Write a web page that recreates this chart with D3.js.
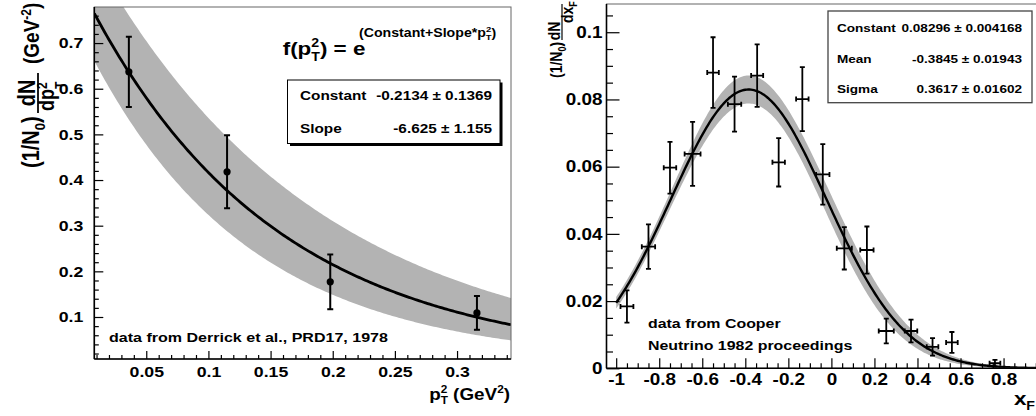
<!DOCTYPE html>
<html>
<head>
<meta charset="utf-8" />
<title>Derrick pT2 and Cooper xF fits</title>
<script src="https://d3js.org/d3.v7.min.js"></script>
<style>
    html, body { margin: 0; padding: 0; background: #fff; }
    svg { display: block; }
    text { font-family: "Liberation Sans", Arial, Helvetica, sans-serif; font-weight: bold; fill: #000; }
</style>
</head>
<body>
<div class="canvas"></div>
<script>
// ---- left panel: Derrick et al. pT^2 data ----
var ptX = [0.036, 0.115, 0.198, 0.316];
var ptY = [0.637, 0.418, 0.177, 0.109];
var ptErr = [0.077, 0.080, 0.060, 0.037];
var expPars = [-0.2134, -6.625];      // Constant, Slope
var expErrs = [0.1369, 1.155];
var ptTicks = [0.05, 0.1, 0.15, 0.2, 0.25, 0.3];
var ptTickLabels = ["0.05", "0.1", "0.15", "0.2", "0.25", "0.3"];
var dnTicks = [0.1, 0.2, 0.3, 0.4, 0.5, 0.6, 0.7];
var dnTickLabels = ["0.1", "0.2", "0.3", "0.4", "0.5", "0.6", "0.7"];

// ---- right panel: Cooper xF data ----
var xfX = [-0.95, -0.85, -0.75, -0.645, -0.55, -0.45, -0.345, -0.245, -0.135, -0.04, 0.06, 0.165, 0.255, 0.37, 0.47, 0.56, 0.76];
var xfY = [0.0184, 0.0362, 0.0597, 0.0638, 0.088, 0.0786, 0.0871, 0.0613, 0.0801, 0.0577, 0.0357, 0.0352, 0.0111, 0.0111, 0.0064, 0.0077, 0.0015];
var xfYErr = [0.0048, 0.0066, 0.0077, 0.0095, 0.0105, 0.0082, 0.0093, 0.0072, 0.0095, 0.009, 0.0063, 0.007, 0.0037, 0.0034, 0.0026, 0.0031, 0.001];
var xfXErr = [0.03, 0.031, 0.029, 0.037, 0.027, 0.031, 0.028, 0.029, 0.029, 0.031, 0.035, 0.031, 0.035, 0.029, 0.027, 0.027, 0.025];
var gausPars = [0.08296, -0.3845, 0.3617];   // Constant, Mean, Sigma
var gausErrs = [0.004168, 0.01943, 0.01602];
var gausCorr = [[1, 0, -0.6], [0, 1, 0.5], [-0.6, 0.5, 1]];
var xfTicks = [-1, -0.8, -0.6, -0.4, -0.2, 0, 0.2, 0.4, 0.6, 0.8];
var xfTickLabels = ["-1", "-0.8", "-0.6", "-0.4", "-0.2", "0", "0.2", "0.4", "0.6", "0.8"];
var dxTicks = [0, 0.02, 0.04, 0.06, 0.08, 0.1];
var dxTickLabels = ["0", "0.02", "0.04", "0.06", "0.08", "0.1"];

var width = 1036, height = 416;
var SX = 1.18;   // picture is a bit stretched sideways, text too
var bandColor = "#b3b3b3";

var svg = d3.select(".canvas").append("svg")
    .attr("width", width)
    .attr("height", height);

function stext(g, x, y, anchor, size) {
    return g.append("text")
        .attr("transform", "translate(" + x + "," + y + ") scale(" + SX + ",1)")
        .attr("text-anchor", anchor)
        .style("font-size", size + "px");
}

function styleAxis(g, size) {
    g.select(".domain").remove();
    g.attr("font-family", null).attr("font-size", null);
    g.selectAll("line").attr("stroke", "#000").attr("stroke-width", 1.2);
    g.selectAll("text").style("font-size", size + "px");
}

// ================= LEFT =================
var L = {left: 94.3, right: 511, top: 7, bottom: 359};
var xL = d3.scaleLinear().domain([0.0082, 0.3434]).range([L.left, L.right]);
var yL = d3.scaleLinear().domain([0.008, 0.779]).range([L.bottom, L.top]);

svg.append("clipPath").attr("id", "clipL").append("rect")
    .attr("x", L.left).attr("y", L.top).attr("width", L.right - L.left).attr("height", L.bottom - L.top);

var left = svg.append("g");
var plotL = left.append("g").attr("clip-path", "url(#clipL)");

function expFit(x) { return Math.exp(expPars[0] + expPars[1] * x); }
var sampL = d3.range(0, 201).map(function(i) { return xL.domain()[0] + i * (xL.domain()[1] - xL.domain()[0]) / 200; });

plotL.append("path")
    .datum(sampL)
    .attr("fill", bandColor)
    .attr("d", d3.area()
        .x(function(d) { return xL(d); })
        .y0(function(d) { return yL(Math.exp(expPars[0] - expErrs[0] + (expPars[1] - expErrs[1]) * d)); })
        .y1(function(d) { return yL(Math.exp(expPars[0] + expErrs[0] + (expPars[1] + expErrs[1]) * d)); }));

plotL.append("path")
    .datum(sampL)
    .attr("fill", "none")
    .attr("stroke", "#000")
    .attr("stroke-width", 2.8)
    .attr("d", d3.line().x(function(d) { return xL(d); }).y(function(d) { return yL(expFit(d)); }));

var ptsL = plotL.selectAll("g.pt").data(ptX).enter().append("g");
ptsL.append("line")
    .attr("x1", function(d) { return xL(d); }).attr("x2", function(d) { return xL(d); })
    .attr("y1", function(d, i) { return yL(ptY[i] - ptErr[i]); })
    .attr("y2", function(d, i) { return yL(ptY[i] + ptErr[i]); })
    .attr("stroke", "#000").attr("stroke-width", 2);
[-1, 1].forEach(function(s) {
    ptsL.append("line")
        .attr("x1", function(d) { return xL(d) - 3; }).attr("x2", function(d) { return xL(d) + 3; })
        .attr("y1", function(d, i) { return yL(ptY[i] + s * ptErr[i]); })
        .attr("y2", function(d, i) { return yL(ptY[i] + s * ptErr[i]); })
        .attr("stroke", "#000").attr("stroke-width", 2);
});
ptsL.append("circle")
    .attr("cx", function(d) { return xL(d); })
    .attr("cy", function(d, i) { return yL(ptY[i]); })
    .attr("r", 3.6).attr("fill", "#000");

// frame
left.append("rect")
    .attr("x", L.left).attr("y", L.top).attr("width", L.right - L.left).attr("height", L.bottom - L.top)
    .attr("fill", "none").attr("stroke", "#666").attr("stroke-width", 1);

// axes
var minorL = d3.range(0.01, 0.344, 0.01).filter(function(v) { return Math.abs(v / 0.05 - Math.round(v / 0.05)) > 1e-6; });
left.append("g").attr("transform", "translate(0," + L.bottom + ")")
    .call(d3.axisBottom(xL).tickValues(minorL).tickSize(-4).tickFormat(""))
    .call(function(g) { styleAxis(g, 15); });
left.append("g").attr("transform", "translate(0," + L.bottom + ")")
    .call(d3.axisBottom(xL).tickValues(ptTicks).tickSize(-8).tickPadding(7)
        .tickFormat(function(d, i) { return ptTickLabels[i]; }))
    .call(function(g) { styleAxis(g, 15); g.selectAll("text").attr("transform", "scale(" + SX + ",1)"); });

var minorLy = d3.range(0.02, 0.78, 0.02).filter(function(v) { return Math.abs(v / 0.1 - Math.round(v / 0.1)) > 1e-6; });
left.append("g").attr("transform", "translate(" + L.left + ",0)")
    .call(d3.axisLeft(yL).tickValues(minorLy).tickSize(-4.5).tickFormat(""))
    .call(function(g) { styleAxis(g, 15); });
left.append("g").attr("transform", "translate(" + L.left + ",0)")
    .call(d3.axisLeft(yL).tickValues(dnTicks).tickSize(-9).tickPadding(11)
        .tickFormat(function(d, i) { return dnTickLabels[i]; }))
    .call(function(g) {
        styleAxis(g, 15);
        g.selectAll("text").attr("transform", "scale(" + SX + ",1)").attr("x", -11 / SX);
    });

left.append("line").attr("x1", L.left).attr("x2", L.right).attr("y1", L.bottom).attr("y2", L.bottom)
    .attr("stroke", "#000").attr("stroke-width", 1.6);
left.append("line").attr("x1", L.left).attr("x2", L.left).attr("y1", L.top).attr("y2", L.bottom)
    .attr("stroke", "#000").attr("stroke-width", 1.6);

// formula
var f1 = stext(left, 282.7, 55, "start", 19);
f1.append("tspan").text("f(p");
f1.append("tspan").attr("dy", -8).style("font-size", "12px").text("2");
f1.append("tspan").attr("dx", -6.7).attr("dy", 14).style("font-size", "12px").text("T");
f1.append("tspan").attr("dy", -6).text(") = e");
var f2 = stext(left, 359, 37, "start", 12);
f2.append("tspan").text("(Constant+Slope*p");
f2.append("tspan").attr("dy", -5).style("font-size", "8px").text("2");
f2.append("tspan").attr("dx", -4.5).attr("dy", 8).style("font-size", "8px").text("T");
f2.append("tspan").attr("dy", -3).text(")");

// stats box
left.append("rect").attr("x", 290).attr("y", 82.5).attr("width", 212.5).attr("height", 63.5).attr("fill", "#000");
left.append("rect").attr("x", 287.5).attr("y", 80).attr("width", 212.5).attr("height", 63.5)
    .attr("fill", "#fff").attr("stroke", "#000").attr("stroke-width", 1);
stext(left, 300, 100, "start", 13).text("Constant");
stext(left, 492, 100, "end", 13).text("-0.2134 \u00b1 0.1369");
stext(left, 300, 133, "start", 13).text("Slope");
stext(left, 492, 133, "end", 13).text("-6.625 \u00b1 1.155");

stext(left, 109, 342, "start", 13.6).text("data from Derrick et al., PRD17, 1978");

// x title
var tx = stext(left, 510, 400, "end", 16);
tx.append("tspan").text("p");
tx.append("tspan").attr("dy", -7).style("font-size", "10px").text("2");
tx.append("tspan").attr("dx", -5.6).attr("dy", 11).style("font-size", "10px").text("T");
tx.append("tspan").attr("dy", -4).text(" (GeV");
tx.append("tspan").attr("dy", -7).style("font-size", "10px").text("2");
tx.append("tspan").attr("dy", 7).text(")");

// y title (rotated): local x = -screen y, local y = screen x / SX
var ty = left.append("g").attr("transform", "scale(" + SX + ",1) rotate(-90)")
    .style("font-size", "20px");
var ty1 = ty.append("text").attr("x", -168).attr("y", 39.5 / SX);
ty1.append("tspan").text("(1/N");
ty1.append("tspan").attr("dy", 4.5).style("font-size", "13px").text("0");
ty1.append("tspan").attr("dy", -4.5).text(")");
ty.append("text").attr("x", -93).attr("y", 35.5 / SX).attr("text-anchor", "middle").style("font-size", "20px").text("dN");
var tyd = ty.append("text").attr("x", -111).attr("y", 54.5 / SX).attr("text-anchor", "start").style("font-size", "18px");
tyd.append("tspan").text("dp");
tyd.append("tspan").attr("dy", -6).style("font-size", "12px").text("2");
tyd.append("tspan").attr("dx", -6.7).attr("dy", 15).style("font-size", "12px").text("T");
ty.append("line").attr("x1", -113).attr("x2", -73).attr("y1", 38 / SX).attr("y2", 38 / SX)
    .attr("stroke", "#000").attr("stroke-width", 1.5);
var ty3 = ty.append("text").attr("x", -64).attr("y", 39.5 / SX).style("font-size", "19px");
ty3.append("tspan").text("(GeV");
ty3.append("tspan").attr("dy", -7).style("font-size", "12px").text("-2");
ty3.append("tspan").attr("dy", 7).text(")");

// ================= RIGHT =================
var R = {left: 606.5, right: 1048, top: 4, bottom: 368.3};
var xR = d3.scaleLinear().domain([-1.045, 1.0065]).range([R.left, R.right]);
var yR = d3.scaleLinear().domain([0, 0.1084]).range([R.bottom, R.top]);

svg.append("clipPath").attr("id", "clipR").append("rect")
    .attr("x", R.left).attr("y", R.top).attr("width", R.right - R.left).attr("height", R.bottom - R.top);

var right = svg.append("g");
var plotR = right.append("g").attr("clip-path", "url(#clipR)");

function gaus(x) {
    var z = (x - gausPars[1]) / gausPars[2];
    return gausPars[0] * Math.exp(-0.5 * z * z);
}
function gausErr(x) {
    var f = gaus(x);
    var dz = (x - gausPars[1]);
    var g = [f / gausPars[0], f * dz / (gausPars[2] * gausPars[2]), f * dz * dz / Math.pow(gausPars[2], 3)];
    var v = 0;
    for (var i = 0; i < 3; i++) {
        for (var j = 0; j < 3; j++) {
            v += g[i] * g[j] * gausErrs[i] * gausErrs[j] * gausCorr[i][j];
        }
    }
    return Math.sqrt(Math.max(v, 0));
}
var sampR = d3.range(0, 301).map(function(i) { return -1 + i * 2 / 300; });

plotR.append("path")
    .datum(sampR)
    .attr("fill", bandColor)
    .attr("d", d3.area()
        .x(function(d) { return xR(d); })
        .y0(function(d) { return yR(gaus(d) - gausErr(d)); })
        .y1(function(d) { return yR(gaus(d) + gausErr(d)); }));

plotR.append("path")
    .datum(sampR)
    .attr("fill", "none")
    .attr("stroke", "#000")
    .attr("stroke-width", 2.4)
    .attr("d", d3.line().x(function(d) { return xR(d); }).y(function(d) { return yR(gaus(d)); }));

var ptsR = plotR.selectAll("g.pt").data(xfX).enter().append("g");
ptsR.append("line")
    .attr("x1", function(d) { return xR(d); }).attr("x2", function(d) { return xR(d); })
    .attr("y1", function(d, i) { return yR(xfY[i] - xfYErr[i]); })
    .attr("y2", function(d, i) { return yR(xfY[i] + xfYErr[i]); })
    .attr("stroke", "#000").attr("stroke-width", 1.8);
ptsR.append("line")
    .attr("x1", function(d, i) { return xR(d - xfXErr[i]); }).attr("x2", function(d, i) { return xR(d + xfXErr[i]); })
    .attr("y1", function(d, i) { return yR(xfY[i]); })
    .attr("y2", function(d, i) { return yR(xfY[i]); })
    .attr("stroke", "#000").attr("stroke-width", 1.8);
[-1, 1].forEach(function(s) {
    ptsR.append("line")
        .attr("x1", function(d) { return xR(d) - 2.5; }).attr("x2", function(d) { return xR(d) + 2.5; })
        .attr("y1", function(d, i) { return yR(xfY[i] + s * xfYErr[i]); })
        .attr("y2", function(d, i) { return yR(xfY[i] + s * xfYErr[i]); })
        .attr("stroke", "#000").attr("stroke-width", 1.8);
    ptsR.append("line")
        .attr("x1", function(d, i) { return xR(d + s * xfXErr[i]); }).attr("x2", function(d, i) { return xR(d + s * xfXErr[i]); })
        .attr("y1", function(d, i) { return yR(xfY[i]) - 2.5; })
        .attr("y2", function(d, i) { return yR(xfY[i]) + 2.5; })
        .attr("stroke", "#000").attr("stroke-width", 1.8);
});

right.append("rect")
    .attr("x", R.left).attr("y", R.top).attr("width", R.right - R.left).attr("height", R.bottom - R.top)
    .attr("fill", "none").attr("stroke", "#666").attr("stroke-width", 1);

var minorRx = d3.range(-1, 1.001, 0.05).filter(function(v) { return Math.abs(v / 0.2 - Math.round(v / 0.2)) > 1e-6; });
right.append("g").attr("transform", "translate(0," + R.bottom + ")")
    .call(d3.axisBottom(xR).tickValues(minorRx).tickSize(-5).tickFormat(""))
    .call(function(g) { styleAxis(g, 16); });
right.append("g").attr("transform", "translate(0," + R.bottom + ")")
    .call(d3.axisBottom(xR).tickValues(xfTicks).tickSize(-10).tickPadding(5.5)
        .tickFormat(function(d, i) { return xfTickLabels[i]; }))
    .call(function(g) { styleAxis(g, 16); g.selectAll("text").attr("transform", "scale(" + SX + ",1)"); });

var minorRy = d3.range(0.005, 0.108, 0.005).filter(function(v) { return Math.abs(v / 0.02 - Math.round(v / 0.02)) > 1e-6; });
right.append("g").attr("transform", "translate(" + R.left + ",0)")
    .call(d3.axisLeft(yR).tickValues(minorRy).tickSize(-6.5).tickFormat(""))
    .call(function(g) { styleAxis(g, 16); });
right.append("g").attr("transform", "translate(" + R.left + ",0)")
    .call(d3.axisLeft(yR).tickValues(dxTicks).tickSize(-13).tickPadding(4)
        .tickFormat(function(d, i) { return dxTickLabels[i]; }))
    .call(function(g) {
        styleAxis(g, 16);
        g.selectAll("text").attr("transform", "scale(" + SX + ",1)").attr("x", -4 / SX);
    });

right.append("line").attr("x1", R.left).attr("x2", R.right).attr("y1", R.bottom).attr("y2", R.bottom)
    .attr("stroke", "#000").attr("stroke-width", 1.6);
right.append("line").attr("x1", R.left).attr("x2", R.left).attr("y1", R.top).attr("y2", R.bottom)
    .attr("stroke", "#000").attr("stroke-width", 1.6);

// stats box
right.append("rect").attr("x", 828).attr("y", 11).attr("width", 204).attr("height", 91.7)
    .attr("fill", "#fff").attr("stroke", "#444").attr("stroke-width", 1.3);
stext(right, 837, 32, "start", 11.5).text("Constant");
stext(right, 1022, 32, "end", 11.5).text("0.08296 \u00b1 0.004168");
stext(right, 837, 63, "start", 11.5).text("Mean");
stext(right, 1022, 63, "end", 11.5).text("-0.3845 \u00b1 0.01943");
stext(right, 837, 93, "start", 11.5).text("Sigma");
stext(right, 1022, 93, "end", 11.5).text("0.3617 \u00b1 0.01602");

stext(right, 648, 328, "start", 13.5).text("data from Cooper");
stext(right, 648, 350, "start", 13.5).text("Neutrino 1982 proceedings");

var txR = stext(right, 1035, 405, "end", 19);
txR.append("tspan").text("x");
txR.append("tspan").attr("dy", 5).style("font-size", "12px").text("F");

// right y title
var tyR = right.append("g").attr("transform", "scale(" + SX + ",1) rotate(-90)")
    .style("font-size", "14px");
var r1 = tyR.append("text").attr("x", -78).attr("y", 562 / SX);
r1.append("tspan").text("(1/N");
r1.append("tspan").attr("dy", 3).style("font-size", "9px").text("0");
r1.append("tspan").attr("dy", -3).text(")");
tyR.append("text").attr("x", -31).attr("y", 560 / SX).attr("text-anchor", "middle").text("dN");
var r2 = tyR.append("text").attr("x", -23).attr("y", 573 / SX).attr("text-anchor", "start");
r2.append("tspan").text("dx");
r2.append("tspan").attr("dy", 3).style("font-size", "9px").text("F");
tyR.append("line").attr("x1", -40).attr("x2", -4).attr("y1", 562 / SX).attr("y2", 562 / SX)
    .attr("stroke", "#000").attr("stroke-width", 1);
</script>
</body>
</html>
